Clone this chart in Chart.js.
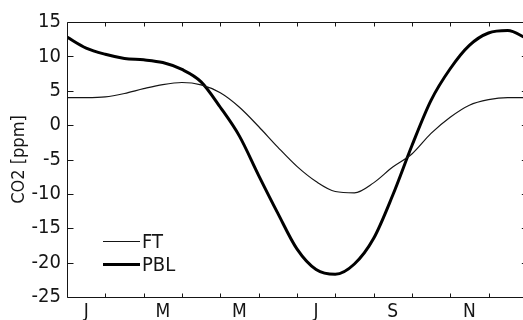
<!DOCTYPE html>
<html>
<head>
<meta charset="utf-8">
<script src="https://cdn.jsdelivr.net/npm/chart.js@4/dist/chart.umd.min.js"></script>
<style>
  html, body { margin: 0; padding: 0; background: #fff; overflow: hidden; }
</style>
</head>
<body>
<canvas id="c" width="523" height="320"></canvas>
<script>
// Seasonal CO2 cycle: month position (0 = start of January, 12 = end of December)
const monthPos = [0, 0.5, 1, 1.5, 2, 2.5, 3, 3.5, 4, 4.5, 5, 5.5, 6, 6.5, 7, 7.5, 8, 8.5, 9, 9.5, 10, 10.5, 11, 11.5, 12];

// Free troposphere
const ftValues = [4.0, 4.0, 4.1, 4.6, 5.3, 5.9, 6.2, 5.85, 4.7, 2.6, -0.2, -3.2, -6.0, -8.2, -9.65, -9.85, -8.4, -6.1, -4.2, -1.2, 1.15, 2.9, 3.7, 4.0, 4.0];

// Planetary boundary layer
const pblValues = [12.8, 11.2, 10.3, 9.7, 9.5, 9.1, 8.1, 6.3, 2.6, -1.6, -7.3, -12.8, -18.0, -21.0, -21.7, -20.2, -16.5, -10.2, -3.0, 3.6, 8.2, 11.6, 13.4, 13.75, 12.6];

// Axis labels
const monthLabels = ['J', 'M', 'M', 'J', 'S', 'N'];
const monthLabelPos = [0.5, 2.5, 4.5, 6.5, 8.5, 10.5];
const monthBoundaries = [1, 2, 3, 4, 5, 6, 7, 8, 9, 10, 11];
const yTickValues = [-25, -20, -15, -10, -5, 0, 5, 10, 15];

const FONT = "'DejaVu Sans Condensed', 'Liberation Sans Narrow', sans-serif";
const INK = '#151515';

const toPoints = vals => monthPos.map((m, i) => ({ x: m, y: vals[i] }));

// Box frame with inward ticks on all four sides; the year-end edge sits at the canvas border
const frameTicks = {
  id: 'frameTicks',
  afterDatasetsDraw(chart) {
    const { ctx, chartArea: a, scales: { x, y } } = chart;
    const left = Math.round(a.left) + 0.5;
    const right = x.getPixelForValue(12);
    const top = Math.round(a.top) + 0.5;
    const bottom = Math.round(a.bottom) + 0.5;
    ctx.save();
    ctx.strokeStyle = INK;
    ctx.lineWidth = 1;
    ctx.beginPath();
    ctx.moveTo(right, top); ctx.lineTo(left, top);
    ctx.lineTo(left, bottom); ctx.lineTo(right, bottom);
    ctx.lineTo(right, top);
    yTickValues.forEach(v => {
      const py = Math.round(y.getPixelForValue(v)) + 0.5;
      ctx.moveTo(left, py); ctx.lineTo(left + 6, py);
      ctx.moveTo(right, py); ctx.lineTo(right - 5, py);
    });
    monthBoundaries.forEach(m => {
      const px = Math.round(x.getPixelForValue(m)) + 0.5;
      ctx.moveTo(px, bottom); ctx.lineTo(px, bottom - 4);
      ctx.moveTo(px, top); ctx.lineTo(px, top + 4);
    });
    ctx.stroke();
    ctx.restore();
  }
};

// Line-sample legend in the lower-left corner of the plot
const inlineLegend = {
  id: 'inlineLegend',
  afterDatasetsDraw(chart) {
    const { ctx, chartArea: a } = chart;
    const rows = [-55.5, -32.5];
    ctx.save();
    ctx.font = "20px " + FONT;
    ctx.textBaseline = 'middle';
    ctx.fillStyle = INK;
    chart.data.datasets.forEach((ds, i) => {
      const yy = a.bottom + rows[i];
      ctx.strokeStyle = ds.borderColor;
      ctx.lineWidth = ds.borderWidth;
      ctx.beginPath();
      ctx.moveTo(a.left + 36, yy);
      ctx.lineTo(a.left + 73, yy);
      ctx.stroke();
      ctx.fillText(ds.label, a.left + 75, yy + 1);
    });
    ctx.restore();
  }
};

new Chart(document.getElementById('c'), {
  type: 'line',
  data: {
    datasets: [
      { label: 'FT', data: toPoints(ftValues), borderColor: INK, borderWidth: 1.2,
        pointRadius: 0, cubicInterpolationMode: 'monotone', fill: false },
      { label: 'PBL', data: toPoints(pblValues), borderColor: '#000', borderWidth: 3,
        pointRadius: 0, cubicInterpolationMode: 'monotone', fill: false }
    ]
  },
  options: {
    responsive: false,
    animation: false,
    devicePixelRatio: 1,
    layout: { padding: { top: 22, right: 0, bottom: 0, left: 0 } },
    plugins: { legend: { display: false }, tooltip: { enabled: false } },
    scales: {
      x: {
        type: 'linear', min: 0, max: 11.9,
        grid: { display: false, drawTicks: false, tickLength: 0 },
        border: { display: false },
        afterBuildTicks: s => { s.ticks = monthLabelPos.map(v => ({ value: v })); },
        afterFit: s => { s.height = 23; },
        ticks: {
          autoSkip: false, maxRotation: 0, padding: 4, color: INK,
          font: { family: FONT, size: 19 },
          callback: (v, i) => monthLabels[i]
        }
      },
      y: {
        min: -25, max: 15,
        grid: { display: false, drawTicks: false, tickLength: 0 },
        border: { display: false },
        afterBuildTicks: s => { s.ticks = yTickValues.map(v => ({ value: v })); },
        afterFit: s => { s.width = 67; },
        ticks: { padding: 6, color: INK, font: { family: FONT, size: 20 } },
        title: {
          display: true, text: 'CO2 [ppm]', color: INK,
          font: { family: FONT, size: 18 }, padding: { top: 9, bottom: 0 }
        }
      }
    }
  },
  plugins: [frameTicks, inlineLegend]
});
</script>
</body>
</html>
